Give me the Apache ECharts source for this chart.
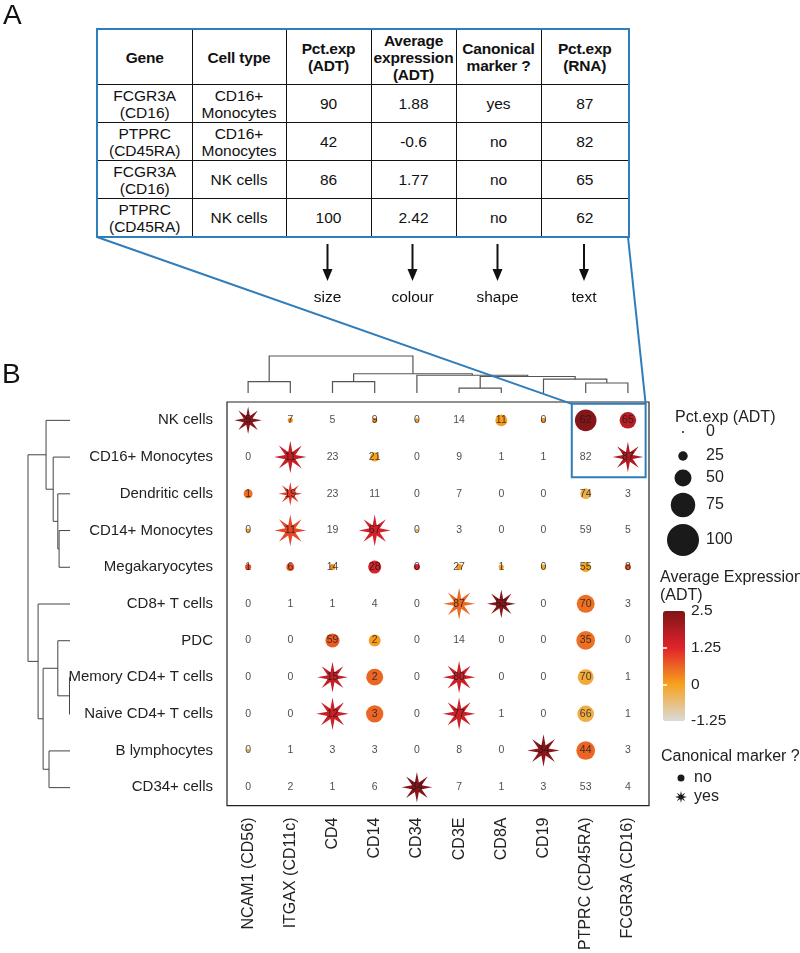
<!DOCTYPE html>
<html>
<head>
<meta charset="utf-8">
<script src="https://cdn.jsdelivr.net/npm/echarts@6/dist/echarts.min.js"></script>
<style>
html,body{margin:0;padding:0;background:#fff;}
#wrap{position:relative;width:800px;height:953px;overflow:hidden;}
#chart{position:absolute;left:0;top:0;width:800px;height:953px;}
#tbl{position:absolute;left:96px;top:28px;border-collapse:collapse;table-layout:fixed;
  font-family:'Liberation Sans',Arial,sans-serif;font-size:15.5px;color:#111;border:2px solid #2f7dba;z-index:5;background:#fff;}
#tbl td,#tbl th{border:1.5px solid #111;text-align:center;padding:0;line-height:17px;overflow:visible;white-space:nowrap;}
#tbl th{font-weight:bold;height:54px;letter-spacing:-0.2px;}
#tbl td{height:37px;}
</style>
</head>
<body>
<div id="wrap">
  <div id="chart"></div>
  <table id="tbl"></table>
</div>
<script>
// ---------------- data ----------------
const genes = ['NCAM1 (CD56)','ITGAX (CD11c)','CD4','CD14','CD34','CD3E','CD8A','CD19','PTPRC (CD45RA)','FCGR3A (CD16)'];
const cellTypes = ['NK cells','CD16+ Monocytes','Dendritic cells','CD14+ Monocytes','Megakaryocytes','CD8+ T cells','PDC','Memory CD4+ T cells','Naive CD4+ T cells','B lymphocytes','CD34+ cells'];

// Pct.exp (RNA) -> text
const pctRNA = [
  [5,7,5,9,0,14,11,0,62,65],
  [0,11,23,21,0,9,1,1,82,87],
  [1,19,23,11,0,7,0,0,74,3],
  [0,11,19,67,0,3,0,0,59,5],
  [1,6,14,28,0,27,1,0,55,8],
  [0,1,1,4,0,87,53,0,70,3],
  [0,0,59,2,0,14,0,0,35,0],
  [0,0,15,2,0,80,0,0,70,1],
  [0,0,12,3,0,77,1,0,66,1],
  [0,1,3,3,0,8,0,34,44,3],
  [0,2,1,6,34,7,1,3,53,4]
];
// Pct.exp (ADT) -> size
const pctADT = [
  [85,54,30,54,51,35,73,54,100,86],
  [25,93,35,65,20,30,25,25,42,90],
  [65,79,35,38,20,30,25,25,70,30],
  [51,92,35,92,48,30,25,25,35,30],
  [57,62,57,76,57,57,54,54,68,57],
  [25,25,30,30,20,92,87,25,90,30],
  [25,25,79,73,20,35,25,25,92,25],
  [25,25,90,87,20,93,25,25,84,30],
  [25,25,93,88,20,93,30,25,86,30],
  [48,25,30,30,20,30,25,93,92,30],
  [25,30,25,30,90,30,25,30,35,30]
];
// Average expression (ADT) -> colour
const avgADT = [
  [2.4,0.2,-0.4,0.3,0.1,-0.3,0.05,0.15,2.42,1.77],
  [-0.6,1.6,-0.3,0.0,-0.8,-0.5,-0.6,-0.6,-0.6,1.88],
  [0.5,1.0,-0.3,-0.2,-0.8,-0.5,-0.6,-0.6,-0.3,-0.5],
  [0.0,0.9,-0.3,1.4,0.0,-0.5,-0.6,-0.6,-0.4,-0.5],
  [0.9,0.7,0.2,1.35,1.3,0.1,0.0,0.0,0.0,0.75],
  [-0.6,-0.6,-0.5,-0.5,-0.8,0.55,2.4,-0.6,0.5,-0.5],
  [-0.6,-0.6,0.7,0.05,-0.8,-0.4,-0.6,-0.6,0.5,-0.6],
  [-0.6,-0.6,1.6,0.6,-0.8,1.5,-0.6,-0.6,-0.2,-0.5],
  [-0.6,-0.6,1.5,0.6,-0.8,1.5,-0.5,-0.6,-0.25,-0.5],
  [0.0,-0.6,-0.5,-0.5,-0.8,-0.5,-0.6,2.3,0.6,-0.5],
  [-0.6,-0.5,-0.6,-0.5,2.4,-0.5,-0.6,-0.5,-0.4,-0.5]
];
// Canonical marker? (1 = yes) -> shape
const canonical = [
  [1,0,0,0,0,0,0,0,0,0],
  [0,1,0,0,0,0,0,0,0,1],
  [0,1,0,0,0,0,0,0,0,0],
  [0,1,0,1,0,0,0,0,0,0],
  [0,0,0,0,0,0,0,0,0,0],
  [0,0,0,0,0,1,1,0,0,0],
  [0,0,0,0,0,0,0,0,0,0],
  [0,0,1,0,0,1,0,0,0,0],
  [0,0,1,0,0,1,0,0,0,0],
  [0,0,0,0,0,0,0,1,0,0],
  [0,0,0,0,1,0,0,0,0,0]
];
// dendrograms: [childA, childB, height]; numbers = leaf index, strings = earlier merge
const colMerges = [
  [0,1,0.31],[2,3,0.31],[5,6,0.13],[8,9,0.27],
  [7,'c3',0.375],['c2','c4',0.446],[4,'c5',0.48],['c1','c6',0.52],['c0','c7',1.0]
];
const rowMerges = [
  [3,4,0.26],[2,'r0',0.29],[1,'r1',0.40],[0,'r2',0.57],
  [7,8,0.012],[6,'r4',0.29],[9,10,0.5],['r5','r6',0.64],[5,'r7',0.76],['r3','r8',1.0]
];
const sizeLegendValues = [0,25,50,75,100];
const colourTicks = [-1.25,0,1.25,2.5];
const tableHeader = ['Gene','Cell type','Pct.exp\n(ADT)','Average\nexpression\n(ADT)','Canonical\nmarker ?','Pct.exp\n(RNA)'];
const tableRows = [
  ['FCGR3A\n(CD16)','CD16+\nMonocytes','90','1.88','yes','87'],
  ['PTPRC\n(CD45RA)','CD16+\nMonocytes','42','-0.6','no','82'],
  ['FCGR3A\n(CD16)','NK cells','86','1.77','no','65'],
  ['PTPRC\n(CD45RA)','NK cells','100','2.42','no','62']
];
const tableRoles = ['size','colour','shape','text'];

// ---------------- table ----------------
const colWidths = [95,94,85,85,85,88];
const tbl = document.getElementById('tbl');
let html = '<colgroup>' + colWidths.map(w => '<col style="width:' + w + 'px">').join('') + '</colgroup>';
html += '<tr>' + tableHeader.map(h => '<th>' + h.replace(/\n/g,'<br>') + '</th>').join('') + '</tr>';
tableRows.forEach(r => { html += '<tr>' + r.map(c => '<td>' + c.replace(/\n/g,'<br>') + '</td>').join('') + '</tr>'; });
tbl.innerHTML = html;
tbl.style.width = colWidths.reduce((a,b)=>a+b,0) + 'px';

// ---------------- helpers ----------------
const FONT = "'Liberation Sans', Arial, sans-serif";
function starPoints(cx, cy, R, r) {
  const pts = [];
  for (let i = 0; i < 16; i++) {
    const a = -Math.PI/2 + i*Math.PI/8;
    const rad = i % 2 ? r : R;
    pts.push([cx + rad*Math.cos(a), cy + rad*Math.sin(a)]);
  }
  return pts;
}
const STAR = 'path://' + starPoints(50,50,50,17).map((p,i)=>(i?'L':'M')+p[0].toFixed(2)+' '+p[1].toFixed(2)).join(' ') + ' Z';
function plotDiameter(p) { return Math.max(0, 0.36*(p - 40)); }
function legendDiameter(v) { return 2 + 0.3*v; }

function layoutDendro(merges, prefix) {
  const pos = {}, ht = {}, segs = [];
  const get = c => typeof c === 'number' ? [c, 0] : [pos[c], ht[c]];
  merges.forEach((m, k) => {
    const a = get(m[0]), b = get(m[1]);
    const id = prefix + k;
    pos[id] = (a[0] + b[0]) / 2; ht[id] = m[2];
    segs.push([a[0], a[1], b[0], b[1], m[2]]);
  });
  return segs;
}
const colSegs = layoutDendro(colMerges, 'c');
const rowSegs = layoutDendro(rowMerges, 'r');

const markerData = [], textData = [];
cellTypes.forEach((c, i) => genes.forEach((g, j) => {
  markerData.push([g, c, pctADT[i][j], avgADT[i][j], canonical[i][j], pctRNA[i][j]]);
  textData.push([g, c, pctRNA[i][j]]);
}));

// ---------------- chart ----------------
const chart = echarts.init(document.getElementById('chart'), null, {renderer:'canvas'});
const G = {left:227, top:402, width:422, height:404};

chart.setOption({
  animation: false,
  textStyle: {fontFamily: FONT},
  grid: [
    {left:G.left, top:G.top, width:G.width, height:G.height, show:true, borderColor:'#222', borderWidth:1.2, backgroundColor:'transparent'},
    {left:G.left, top:356, width:G.width, height:37},
    {left:28, top:G.top, width:42, height:G.height},
    {left:663, top:611, width:22, height:110}
  ],
  xAxis: [
    {gridIndex:0, type:'category', data:genes, axisLine:{show:false}, axisTick:{show:false}, splitLine:{show:false},
     axisLabel:{rotate:90, fontSize:16, color:'#222', margin:12, fontFamily:FONT}},
    {gridIndex:1, type:'value', min:-0.5, max:9.5, show:false},
    {gridIndex:2, type:'value', min:0, max:1, inverse:true, show:false},
    {gridIndex:3, type:'value', min:0, max:1, show:false}
  ],
  yAxis: [
    {gridIndex:0, type:'category', data:cellTypes, inverse:true, axisLine:{show:false}, axisTick:{show:false}, splitLine:{show:false},
     axisLabel:{fontSize:15, color:'#222', margin:14, fontFamily:FONT}},
    {gridIndex:1, type:'value', min:0, max:1, show:false},
    {gridIndex:2, type:'value', min:-0.5, max:10.5, inverse:true, show:false},
    {gridIndex:3, type:'value', min:colourTicks[0], max:colourTicks[3], interval:1.25, position:'right', z:10,
     axisLine:{show:false}, splitLine:{show:false},
     axisTick:{show:true, inside:true, length:4, lineStyle:{color:'#fff', width:1.5}, customValues:[colourTicks[1], colourTicks[2]]},
     axisLabel:{fontSize:15.5, color:'#222', margin:6, fontFamily:FONT}},
    {gridIndex:3, type:'value', min:colourTicks[0], max:colourTicks[3], interval:1.25, position:'left', z:10,
     axisLine:{show:false}, splitLine:{show:false}, axisLabel:{show:false},
     axisTick:{show:true, inside:true, length:4, lineStyle:{color:'#fff', width:1.5}, customValues:[colourTicks[1], colourTicks[2]]}}
  ],
  visualMap: [{
    type:'continuous', seriesIndex:0, dimension:3, min:colourTicks[0], max:colourTicks[3],
    inRange:{color:['#dadada','#f6a21d','#e0232b','#7e1418']},
    left:663, top:611, itemWidth:22, itemHeight:110, calculable:false, padding:0, orient:'vertical'
  }],
  series: [
    {type:'scatter', xAxisIndex:0, yAxisIndex:0, data:markerData, z:2,
     symbol: v => v[4] ? STAR : 'circle',
     symbolSize: v => v[4] ? plotDiameter(v[2])*1.7 : plotDiameter(v[2]),
     itemStyle:{opacity:1}},
    {type:'scatter', xAxisIndex:0, yAxisIndex:0, data:textData, z:5, silent:true,
     symbolSize:1, itemStyle:{color:'rgba(0,0,0,0)'},
     label:{show:true, position:'inside', formatter: p => String(p.value[2]), fontSize:10.5, color:'#1a1a1a', fontFamily:FONT}},
    {type:'custom', xAxisIndex:1, yAxisIndex:1, data:colSegs, clip:false, silent:true,
     renderItem: (params, api) => {
       const pa = api.value(0), ha = api.value(1), pb = api.value(2), hb = api.value(3), h = api.value(4);
       return {type:'polyline', shape:{points:[api.coord([pa,ha]), api.coord([pa,h]), api.coord([pb,h]), api.coord([pb,hb])]},
               style:{stroke:'#555', lineWidth:1.2, fill:null}};
     }},
    {type:'custom', xAxisIndex:2, yAxisIndex:2, data:rowSegs, clip:false, silent:true,
     renderItem: (params, api) => {
       const pa = api.value(0), ha = api.value(1), pb = api.value(2), hb = api.value(3), h = api.value(4);
       return {type:'polyline', shape:{points:[api.coord([ha,pa]), api.coord([h,pa]), api.coord([h,pb]), api.coord([hb,pb])]},
               style:{stroke:'#444', lineWidth:1, fill:null}};
     }}
  ]
});

// ---------------- annotations ----------------
const BLUE = '#2f7dba';
const p1 = chart.convertToPixel({gridIndex:0}, [genes[8], cellTypes[0]]);
const p2 = chart.convertToPixel({gridIndex:0}, [genes[9], cellTypes[1]]);
const bw = p2[0] - p1[0], bh = p2[1] - p1[1];
const bx0 = p1[0] - 0.33*bw, bx1 = p2[0] + 0.42*bw, by0 = p1[1] - 0.45*bh, by1 = p2[1] + 0.55*bh;
const tLeft = 96, tRight = 96 + colWidths.reduce((a,b)=>a+b,0), tBottom = 237;

const graphic = [];
graphic.push({type:'text', x:3, y:2, z:20, style:{text:'A', fontSize:28, fill:'#111', fontFamily:FONT}});
graphic.push({type:'text', x:2, y:361, z:20, style:{text:'B', fontSize:28, fill:'#111', fontFamily:FONT}});
graphic.push({type:'rect', z:20, shape:{x:bx0, y:by0, width:bx1-bx0, height:by1-by0}, style:{stroke:BLUE, lineWidth:2, fill:null}});
graphic.push({type:'line', z:20, shape:{x1:tLeft+1, y1:tBottom, x2:bx0, y2:by0}, style:{stroke:BLUE, lineWidth:2}});
graphic.push({type:'line', z:20, shape:{x1:tRight, y1:tBottom, x2:bx1, y2:by0}, style:{stroke:BLUE, lineWidth:2}});

// arrows under the last four table columns
let acc = tLeft;
const colCenters = colWidths.map(w => { const c = acc + w/2; acc += w; return c; });
tableRoles.forEach((role, k) => {
  const cx = colCenters[k+2];
  graphic.push({type:'line', z:20, shape:{x1:cx, y1:244, x2:cx, y2:272}, style:{stroke:'#111', lineWidth:2}});
  graphic.push({type:'polygon', z:20, shape:{points:[[cx-5,269],[cx+5,269],[cx,281]]}, style:{fill:'#111'}});
  graphic.push({type:'text', x:cx, y:298, z:20, style:{text:role, fontSize:15.5, fill:'#111', fontFamily:FONT, textAlign:'center', textVerticalAlign:'middle'}});
});

// size legend
graphic.push({type:'text', x:675, y:418, z:20, style:{text:'Pct.exp (ADT)', fontSize:16, fill:'#222', fontFamily:FONT, textVerticalAlign:'middle'}});
const legendY = [432, 456, 478, 505, 540];
sizeLegendValues.forEach((v, k) => {
  graphic.push({type:'circle', z:20, shape:{cx:683, cy:legendY[k], r:legendDiameter(v)/2}, style:{fill:'#1a1a1a'}});
  graphic.push({type:'text', x:706, y:legendY[k], z:20, style:{text:String(v), fontSize:16, fill:'#222', fontFamily:FONT, textVerticalAlign:'middle'}});
});
// colour legend title
graphic.push({type:'text', x:660, y:569, z:20, style:{text:'Average Expression\n(ADT)', fontSize:16, lineHeight:18, fill:'#222', fontFamily:FONT}});
// shape legend
graphic.push({type:'text', x:661, y:757, z:20, style:{text:'Canonical marker ?', fontSize:16, fill:'#222', fontFamily:FONT, textVerticalAlign:'middle'}});
graphic.push({type:'circle', z:20, shape:{cx:681, cy:778, r:3.5}, style:{fill:'#1a1a1a'}});
graphic.push({type:'text', x:694, y:778, z:20, style:{text:'no', fontSize:16, fill:'#222', fontFamily:FONT, textVerticalAlign:'middle'}});
graphic.push({type:'polygon', z:20, shape:{points:starPoints(681,797,6,2.3)}, style:{fill:'#1a1a1a'}});
graphic.push({type:'text', x:694, y:797, z:20, style:{text:'yes', fontSize:16, fill:'#222', fontFamily:FONT, textVerticalAlign:'middle'}});

chart.setOption({graphic: graphic});
</script>
</body>
</html>
